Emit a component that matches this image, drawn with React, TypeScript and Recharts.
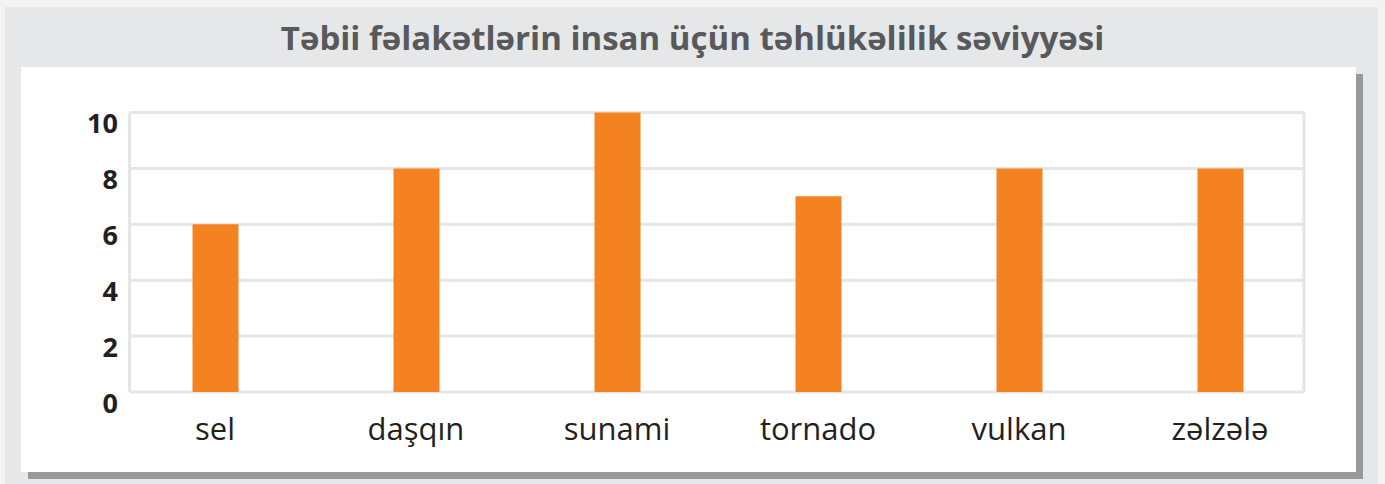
import { BarChart, Bar, XAxis, YAxis, CartesianGrid } from "recharts"

const categories = ["sel", "daşqın", "sunami", "tornado", "vulkan", "zəlzələ"]
const riskLevels = [6, 8, 10, 7, 8, 8]
const yTicks = [0, 2, 4, 6, 8, 10]

const TITLE = "Təbii fəlakətlərin insan üçün təhlükəlilik səviyyəsi"
const FONT = "'Open Sans', 'Noto Sans', sans-serif"

const data = categories.map((name, i) => ({ name, value: riskLevels[i] }))

function YTick({ x, y, payload }: any) {
  return (
    <text x={x - 11.5} y={y + 10} textAnchor="end" dominantBaseline="central"
      fontFamily={FONT} fontWeight={700} fontSize={27} fill="#231f20">
      {payload.value}
    </text>
  )
}

function XTick({ x, y, payload }: any) {
  return (
    <text x={x} y={y + 48} textAnchor="middle"
      fontFamily={FONT} fontSize={31} fill="#231f20">
      {payload.value}
    </text>
  )
}

export default function App() {
  return (
    <div style={{ position: "absolute", left: 0, top: 0, width: 1385, height: 484, background: "#f3f3f3", overflow: "hidden" }}>
      {/* grey frame */}
      <div style={{ position: "absolute", left: 5, top: 7, width: 1373, height: 477, background: "#e6e7e8" }} />
      {/* panel shadow */}
      <div style={{ position: "absolute", left: 28, top: 74, width: 1335, height: 405, background: "#999999" }} />
      {/* white panel */}
      <div style={{ position: "absolute", left: 21, top: 67, width: 1335, height: 405, background: "#ffffff" }} />
      <div style={{
        position: "absolute", left: 0, top: 16, width: 1385, textAlign: "center",
        fontFamily: FONT, fontWeight: 700, fontSize: 33, color: "#58595b", lineHeight: "44px",
      }}>
        {TITLE}
      </div>
      <div style={{ position: "absolute", left: 0, top: 0 }}>
        <BarChart width={1385} height={484} data={data}
          margin={{ top: 112.5, right: 81, bottom: 32, left: 69.5 }}>
          <CartesianGrid stroke="#e6e6e6" strokeWidth={3}
            verticalCoordinatesGenerator={({ offset }: any) => [offset.left, offset.left + offset.width]} />
          <XAxis dataKey="name" axisLine={false} tickLine={false} tickSize={0} tickMargin={0}
            height={60} padding={{ left: -15, right: -16.5 }} tick={<XTick />} interval={0} />
          <YAxis domain={[0, 10]} ticks={yTicks} axisLine={false} tickLine={false}
            tickSize={0} tickMargin={0} width={60} tick={<YTick />} />
          <Bar dataKey="value" fill="#f58220" barSize={46} isAnimationActive={false} />
        </BarChart>
      </div>
    </div>
  )
}
